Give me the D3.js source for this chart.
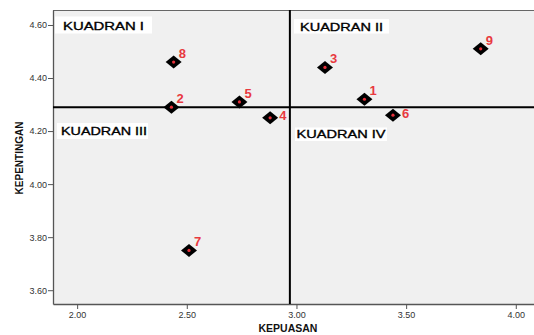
<!DOCTYPE html>
<html><head><meta charset="utf-8">
<script src="https://cdn.jsdelivr.net/npm/d3@7"></script>
<style>html,body{margin:0;padding:0;background:#fff;}svg{display:block;}</style>
</head><body>
<script>
const ids = ["1","2","3","4","5","6","7","8","9"];
const kepuasan = [3.31, 2.43, 3.13, 2.88, 2.74, 3.44, 2.51, 2.44, 3.84];
const kepentingan = [4.32, 4.29, 4.44, 4.25, 4.31, 4.26, 3.75, 4.46, 4.51];
const xTicks = [2.0, 2.5, 3.0, 3.5, 4.0];
const yTicks = [3.6, 3.8, 4.0, 4.2, 4.4, 4.6];
const refX = 2.97, refY = 4.29;
const quadrantNames = ["KUADRAN I","KUADRAN II","KUADRAN III","KUADRAN IV"];

const W = 534, H = 335;
const FONT = "Liberation Sans, Arial, sans-serif";
const svg = d3.select("body").append("svg").attr("width", W).attr("height", H);
const x = d3.scaleLinear().domain([1.89, 4.083]).range([53, 534]);
const y = d3.scaleLinear().domain([3.548, 4.6565]).range([304, 10]);

svg.append("rect").attr("x", 53).attr("y", 10).attr("width", W - 53).attr("height", 294)
  .attr("fill", "#f0f0f0");
svg.append("line").attr("x1", 53).attr("x2", W).attr("y1", 10.5).attr("y2", 10.5).attr("stroke", "#666").attr("stroke-width", 1);

const gx = svg.append("g").attr("transform", "translate(0,304)")
  .call(d3.axisBottom(x).tickValues(xTicks).tickFormat(d3.format(".2f")).tickSize(5).tickSizeOuter(0));
const gy = svg.append("g").attr("transform", "translate(53,0)")
  .call(d3.axisLeft(y).tickValues(yTicks).tickFormat(d3.format(".2f")).tickSize(5).tickSizeOuter(0));
[gx, gy].forEach(g => {
  g.select(".domain").attr("stroke", "#555").attr("stroke-width", 1.3);
  g.selectAll(".tick line").attr("stroke", "#555");
  g.selectAll(".tick text").attr("fill", "#333").attr("font-size", 9).attr("font-family", FONT);
});
gx.selectAll(".tick text").attr("dy", "0.95em").attr("y", 5);
gy.selectAll(".tick text").attr("x", -6);

// reference lines
svg.append("line").attr("x1", 53).attr("x2", W).attr("y1", y(refY)).attr("y2", y(refY))
  .attr("stroke", "#000").attr("stroke-width", 2);
svg.append("line").attr("x1", x(refX)).attr("x2", x(refX)).attr("y1", 10).attr("y2", 304)
  .attr("stroke", "#000").attr("stroke-width", 2);

// quadrant labels
const qBoxes = [
  {bx: 55, by: 16.5, bw: 97, bh: 17, tx: 63, ty: 30, tl: 81},
  {bx: 294, by: 19, bw: 95, bh: 14.5, tx: 300, ty: 30.5, tl: 83},
  {bx: 57, by: 123, bw: 91, bh: 16, tx: 61, ty: 135, tl: 86},
  {bx: 295, by: 127.5, bw: 92, bh: 13.5, tx: 296.5, ty: 138.3, tl: 89}
];
qBoxes.forEach((b, i) => {
  svg.append("rect").attr("x", b.bx).attr("y", b.by).attr("width", b.bw).attr("height", b.bh).attr("fill", "#fff");
  svg.append("text").attr("x", b.tx).attr("y", b.ty).text(quadrantNames[i])
    .attr("font-family", FONT).attr("font-size", 11.5)
    .attr("fill", "#000").attr("stroke", "#000").attr("stroke-width", 0.35)
    .attr("textLength", b.tl).attr("lengthAdjust", "spacingAndGlyphs");
});

// points
const pts = ids.map((id, i) => ({id, vx: kepuasan[i], vy: kepentingan[i]}));
const nearBelow = d => d.vy < refY && (refY - d.vy) < 0.06;
const g = svg.append("g");
g.selectAll("path.dia").data(pts).join("path").attr("class", "dia")
  .attr("d", d => { const cx = x(d.vx), cy = y(d.vy);
    return `M${cx-8},${cy}L${cx},${cy-6.5}L${cx+8},${cy}L${cx},${cy+6.5}Z`; })
  .attr("fill", "#000");
g.selectAll("circle.dot").data(pts).join("circle").attr("class", "dot")
  .attr("cx", d => x(d.vx)).attr("cy", d => y(d.vy)).attr("r", 1.6).attr("fill", "#e8303a");
g.selectAll("text.lab").data(pts).join("text").attr("class", "lab")
  .attr("x", d => x(d.vx) + (nearBelow(d) ? 9 : 5))
  .attr("y", d => y(d.vy) + (nearBelow(d) ? 2.5 : -4))
  .text(d => d.id).attr("fill", "#e8393f").attr("font-weight", "bold")
  .attr("font-size", 13).attr("font-family", FONT);

// axis titles
svg.append("text").attr("x", 288).attr("y", 332).attr("text-anchor", "middle").text("KEPUASAN")
  .attr("font-family", FONT).attr("font-weight", "bold").attr("font-size", 10.5).attr("fill", "#111");
svg.append("text").attr("transform", "translate(23,158) rotate(-90)").attr("text-anchor", "middle").text("KEPENTINGAN")
  .attr("font-family", FONT).attr("font-weight", "bold").attr("font-size", 10).attr("fill", "#111");
</script>
</body></html>
